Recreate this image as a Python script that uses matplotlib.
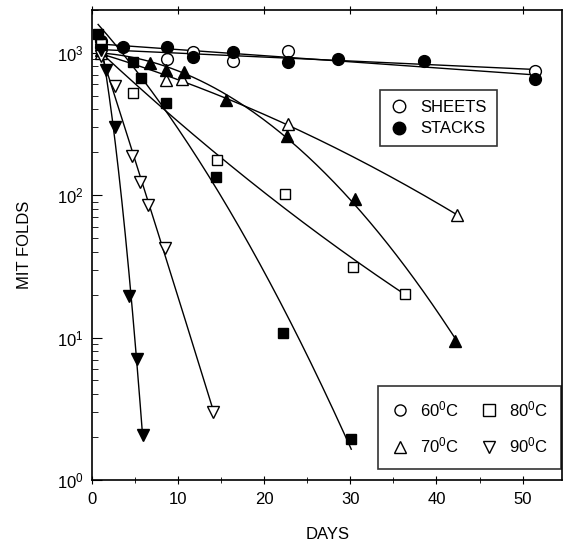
import numpy as np
import matplotlib.pyplot as plt
from matplotlib.lines import Line2D

plt.rcParams['font.family'] = ['Liberation Sans', 'DejaVu Sans']
plt.rcParams['mathtext.default'] = 'regular'

# days / MIT folds
s60_x = [1.0, 8.7, 11.7, 16.4, 22.7, 51.5]
s60_y = [1100, 908, 1016, 879, 1032, 748]
k60_x = [1.0, 3.6, 8.7, 11.7, 16.4, 22.7, 28.6, 38.6, 51.5]
k60_y = [1200, 1100, 1102, 937, 1016, 865, 908, 879, 658]

s70_x = [1.0, 8.6, 10.5, 22.7, 42.4]
s70_y = [1000, 647, 658, 314, 72.5]
k70_x = [1.0, 6.7, 8.6, 10.7, 15.5, 22.6, 30.5, 42.2]
k70_y = [1050, 851, 761, 736, 469, 259, 93.7, 9.4]

s80_x = [1.0, 4.8, 14.5, 22.4, 30.3, 36.4]
s80_y = [1150, 525, 176, 102, 31.4, 20.3]
k80_x = [0.7, 4.8, 5.7, 8.6, 14.4, 22.2, 30.1]
k80_y = [1358, 865, 668, 440, 134, 10.8, 1.94]

s90_x = [1.0, 2.7, 4.65, 5.6, 6.5, 8.5, 14.1]
s90_y = [950, 588, 187, 123, 85, 42.6, 2.99]
k90_x = [1.0, 1.6, 2.7, 4.3, 5.2, 5.9]
k90_y = [1050, 761, 299, 19.7, 7.1, 2.06]

series = [
    (s60_x, s60_y, 'o', False, 1), (k60_x, k60_y, 'o', True, 1),
    (s70_x, s70_y, '^', False, 2), (k70_x, k70_y, '^', True, 2),
    (s80_x, s80_y, 's', False, 2), (k80_x, k80_y, 's', True, 2),
    (s90_x, s90_y, 'v', False, 2), (k90_x, k90_y, 'v', True, 2),
]

fig = plt.figure(figsize=(5.65, 5.46), dpi=100)
ax = fig.add_axes([0.163, 0.121, 0.832, 0.861])

for x, y, m, filled, deg in series:
    x = np.array(x)
    ly = np.log10(y)
    c = np.polyfit(x, ly, deg)
    # fitted curve, drawn over the range of the points
    xx = np.linspace(x[0], x[-1], 200)
    ax.plot(xx, 10 ** np.polyval(c, xx), color='black', lw=1.0, zorder=2)
    ms = 7.5 if m == 's' else 8.5
    ax.plot(x, y, m, ms=ms, mec='black', mew=1.0,
            mfc='black' if filled else 'white', zorder=3)

ax.set_yscale('log')
ax.set_xlim(0, 54.6)
ax.set_ylim(1, 2000)
ax.set_xticks([0, 10, 20, 30, 40, 50])
ax.set_xticks([5, 15, 25, 35, 45], minor=True)
ax.tick_params(axis='x', which='major', direction='inout', length=6, top=True,
               labelsize=12, pad=6)
ax.tick_params(axis='x', which='minor', direction='inout', length=4)
ax.tick_params(axis='y', which='major', direction='in', length=7, right=False,
               labelsize=12, pad=6)
ax.tick_params(axis='y', which='minor', direction='in', length=4, right=False)
for sp in ax.spines.values():
    sp.set_linewidth(1.2)

ax.set_xlabel('DAYS', fontsize=12, labelpad=14)
ax.set_ylabel('MIT FOLDS', fontsize=12, labelpad=18)

h1 = [Line2D([], [], ls='none', marker='o', ms=9, mec='black', mfc='white'),
      Line2D([], [], ls='none', marker='o', ms=9, mec='black', mfc='black')]
leg1 = ax.legend(h1, ['SHEETS', 'STACKS'], loc='upper left',
                 bbox_to_anchor=(0.613, 0.83), borderaxespad=0, fontsize=12,
                 frameon=True, fancybox=False, edgecolor='black',
                 handlelength=1.0, handletextpad=0.8, borderpad=0.6,
                 labelspacing=0.4)
leg1.get_frame().set_linewidth(1.2)
ax.add_artist(leg1)

temps = ['60$^{0}$C', '70$^{0}$C', '80$^{0}$C', '90$^{0}$C']
marks = ['o', '^', 's', 'v']
h2 = [Line2D([], [], ls='none', marker=m, ms=8, mec='black', mfc='white', mew=1.0)
      for m in marks]
leg2 = ax.legend(h2, temps, loc='lower right', bbox_to_anchor=(0.998, 0.023),
                 borderaxespad=0, ncol=2, fontsize=12, frameon=True,
                 fancybox=False, edgecolor='black', handlelength=1.0,
                 handletextpad=0.7, columnspacing=1.3, borderpad=0.8,
                 labelspacing=1.0)
leg2.get_frame().set_linewidth(1.2)

fig.savefig('out.png', dpi=100)
